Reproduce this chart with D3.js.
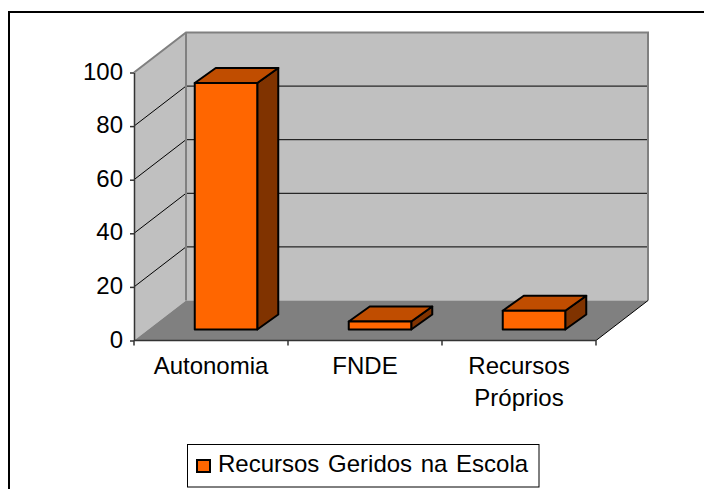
<!DOCTYPE html>
<html><head><meta charset="utf-8">
<script src="https://cdn.jsdelivr.net/npm/d3@7/dist/d3.min.js"></script>
<style>html,body{margin:0;padding:0;background:#fff;overflow:hidden}svg{display:block}text{font-family:"Liberation Sans",Arial,sans-serif;fill:#000}</style>
</head><body><svg id="c" width="704" height="489"></svg>
<script>
const categories = ["Autonomia", "FNDE", "Recursos|Próprios"];
const values = [92, 3, 7];
const yTicks = [0, 20, 40, 60, 80, 100];
const seriesName = "Recursos Geridos na Escola";

const svg = d3.select("#c");
const W = 704, H = 489, fs = 24;
const x = d3.scaleBand().domain(categories).range([134, 596]);
const y = d3.scaleLinear().domain([0, 100]).range([340.5, 72.5]);
const wall = {dx: 52, dy: -40};
const barOff = {dx: 15, dy: -11};
const barDepth = {dx: 21, dy: -15};
const barW = 62.5;
const path = p => "M" + p.map(a => a.join(",")).join("L") + "Z";

// chart frame, running off the picture on the right and bottom
svg.append("rect").attr("x", 9).attr("y", 12).attr("width", W + 20).attr("height", H + 20)
  .attr("fill", "#fff").attr("stroke", "#000").attr("stroke-width", 2);

const [x0, x1] = x.range();
const y0 = y(0), y1 = y(100);
// walls
svg.append("path").attr("d", path([[x0, y0], [x0, y1], [x0 + wall.dx, y1 + wall.dy], [x0 + wall.dx, y0 + wall.dy]]))
  .attr("fill", "#c0c0c0");
svg.append("path").attr("d", path([[x0 + wall.dx, y1 + wall.dy], [x1 + wall.dx, y1 + wall.dy], [x1 + wall.dx, y0 + wall.dy], [x0 + wall.dx, y0 + wall.dy]]))
  .attr("fill", "#c0c0c0");
// floor
svg.append("path").attr("d", path([[x0, y0], [x0 + wall.dx, y0 + wall.dy], [x1 + wall.dx, y0 + wall.dy], [x1, y0]]))
  .attr("fill", "#808080");
// gridlines
yTicks.filter(t => t > 0 && t < 100).forEach(t => {
  svg.append("path").attr("fill", "none").attr("stroke", "#000").attr("stroke-width", 1)
    .attr("d", `M${x0},${y(t)}L${x0 + wall.dx},${y(t) + wall.dy}L${x1 + wall.dx},${y(t) + wall.dy}`);
});
// wall edges
svg.append("path").attr("fill", "none").attr("stroke", "#808080").attr("stroke-width", 2)
  .attr("d", `M${x0},${y1}L${x0 + wall.dx},${y1 + wall.dy}L${x1 + wall.dx},${y1 + wall.dy}L${x1 + wall.dx},${y0 + wall.dy}M${x0 + wall.dx},${y1 + wall.dy}L${x0 + wall.dx},${y0 + wall.dy}`);
svg.append("line").attr("x1", x1).attr("y1", y0).attr("x2", x1 + wall.dx).attr("y2", y0 + wall.dy)
  .attr("stroke", "#000").attr("stroke-width", 1);

// bars
categories.forEach((c, i) => {
  const l = x(c) + x.bandwidth() / 2 - barW / 2 + barOff.dx, r = l + barW;
  const b = y(0) + barOff.dy, t = y(values[i]) + barOff.dy;
  const d = barDepth;
  const g = svg.append("g").attr("stroke", "#000").attr("stroke-width", 2).attr("stroke-linejoin", "round");
  g.append("path").attr("d", path([[r, b], [r, t], [r + d.dx, t + d.dy], [r + d.dx, b + d.dy]])).attr("fill", "#803300");
  g.append("path").attr("d", path([[l, t], [r, t], [r + d.dx, t + d.dy], [l + d.dx, t + d.dy]])).attr("fill", "#c04d00");
  g.append("path").attr("d", path([[l, b], [l, t], [r, t], [r, b]])).attr("fill", "#ff6600");
});

// axes
const ay = svg.append("g").attr("transform", `translate(${x0},0)`)
  .call(d3.axisLeft(y).tickValues(yTicks).tickSize(4).tickPadding(7).tickSizeOuter(0));
ay.selectAll("path,line").attr("stroke", "#333").attr("stroke-width", 1.5);
ay.selectAll("text").attr("font-size", fs).attr("font-family", '"Liberation Sans"').attr("fill", "#000")
  .attr("transform", "translate(0,-1)");

const ax = svg.append("g").attr("transform", `translate(0,${y0})`);
ax.append("line").attr("x1", x0).attr("x2", x1).attr("stroke", "#333").attr("stroke-width", 1.5);
[...categories.map(c => x(c)), x1].forEach(px => {
  ax.append("line").attr("x1", px).attr("x2", px).attr("y1", 0).attr("y2", 5).attr("stroke", "#333").attr("stroke-width", 1.5);
});
categories.forEach(c => {
  c.split("|").forEach((s, j) => {
    ax.append("text").attr("x", x(c) + x.bandwidth() / 2).attr("y", 33 + j * 32.5)
      .attr("text-anchor", "middle").attr("font-size", fs).text(s);
  });
});

// legend
svg.append("rect").attr("x", 187.5).attr("y", 444.5).attr("width", 351.5).attr("height", 42.5)
  .attr("fill", "#fff").attr("stroke", "#000").attr("stroke-width", 1);
svg.append("rect").attr("x", 197).attr("y", 460).attr("width", 13).attr("height", 12)
  .attr("fill", "#ff6600").attr("stroke", "#000").attr("stroke-width", 2);
svg.append("text").attr("x", 218).attr("y", 472).attr("font-size", fs).attr("word-spacing", 2).text(seriesName);
</script></body></html>
